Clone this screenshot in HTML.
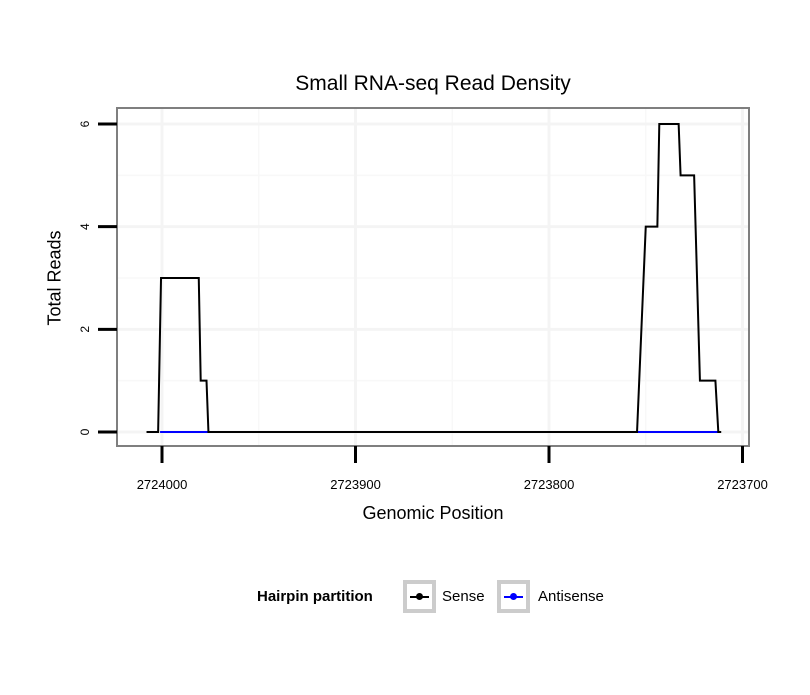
<!DOCTYPE html>
<html><head><meta charset="utf-8"><style>
body{margin:0;background:#fff;font-family:"Liberation Sans",sans-serif}
.k{position:absolute;top:580px;width:33px;height:33px;box-sizing:border-box;border:4px solid #ccc}
.k .l{position:absolute;left:3px;right:3px;top:12px;height:2px}
.k .d{position:absolute;left:9px;top:9px;width:7px;height:7px;border-radius:50%}
</style></head><body>
<svg id="c" width="810" height="690" xmlns="http://www.w3.org/2000/svg"></svg>
<script>
const sensePos=[2724008,2724002,2724000.5,2723981,2723980,2723977,2723976,2723754.5,2723750,2723744,2723743,2723733,2723732,2723725,2723723.5,2723722,2723714,2723712.5,2723711];
const senseVal=[0,0,3,3,1,1,0,0,4,4,6,6,5,5,3,1,1,0,0];
const antiPos=[[2724001,2723976],[2723754,2723712]];
const xTicks=[2724000,2723900,2723800,2723700];
const yTicks=[0,2,4,6];
const NS="http://www.w3.org/2000/svg";
const svg=document.getElementById('c');
const L=117,R=749,T=108,B=446;
const X=g=>162+(2724000-g)*1.935;
const Y=v=>432-v*51.33;
function mk(t,a,p){const e=document.createElementNS(NS,t);for(const k in a)e.setAttribute(k,a[k]);(p||svg).appendChild(e);return e;}
mk('rect',{x:L,y:T,width:R-L,height:B-T,fill:'#fff'});
[2723950,2723850,2723750].forEach(g=>mk('line',{x1:X(g),x2:X(g),y1:T,y2:B,stroke:'#f8f8f8','stroke-width':1.5}));
[1,3,5].forEach(v=>mk('line',{x1:L,x2:R,y1:Y(v),y2:Y(v),stroke:'#f8f8f8','stroke-width':1.5}));
xTicks.forEach(g=>mk('line',{x1:X(g),x2:X(g),y1:T,y2:B,stroke:'#f4f4f4','stroke-width':3}));
yTicks.forEach(v=>mk('line',{x1:L,x2:R,y1:Y(v),y2:Y(v),stroke:'#f4f4f4','stroke-width':3}));
antiPos.forEach(s=>{const e=mk('line',{x1:X(s[0]),x2:X(s[1]),y1:Y(0),y2:Y(0),stroke:'#0000ff','stroke-width':2});
});
const p=mk('polyline',{points:sensePos.map((g,i)=>X(g)+','+Y(senseVal[i])).join(' '),fill:'none',stroke:'#000','stroke-width':2});

mk('rect',{x:L,y:T,width:R-L,height:B-T,fill:'none',stroke:'#7f7f7f','stroke-width':2});
xTicks.forEach(g=>{mk('line',{x1:X(g),x2:X(g),y1:B,y2:B+17,stroke:'#000','stroke-width':3});
const t=mk('text',{x:X(g),y:489,'text-anchor':'middle','font-size':13});t.textContent=g;
});
yTicks.forEach(v=>{mk('line',{x1:L-19,x2:L,y1:Y(v),y2:Y(v),stroke:'#000','stroke-width':3});
const t=mk('text',{x:85,y:Y(v),'text-anchor':'middle','font-size':12,transform:`rotate(-90 85 ${Y(v)})`,'dominant-baseline':'central'});t.textContent=v;
});
</script>
<div style="position:absolute;left:0;width:866px;top:72px;text-align:center;font-size:21px">Small RNA-seq Read Density</div>
<div style="position:absolute;left:0;width:866px;top:503px;text-align:center;font-size:18px">Genomic Position</div>
<div style="position:absolute;left:55px;top:278px;transform:translate(-50%,-50%) rotate(-90deg);font-size:18px;white-space:nowrap">Total Reads</div>
<b style="position:absolute;left:257px;top:588px;font-size:15px">Hairpin partition</b>
<span class="k" style="left:403px"><span class="l" style="background:#000"></span><span class="d" style="background:#000"></span></span>
<span style="position:absolute;left:442px;top:588px;font-size:15px">Sense</span>
<span class="k" style="left:497px"><span class="l" style="background:#00f"></span><span class="d" style="background:#00f"></span></span>
<span style="position:absolute;left:538px;top:588px;font-size:15px">Antisense</span>
</body></html>
